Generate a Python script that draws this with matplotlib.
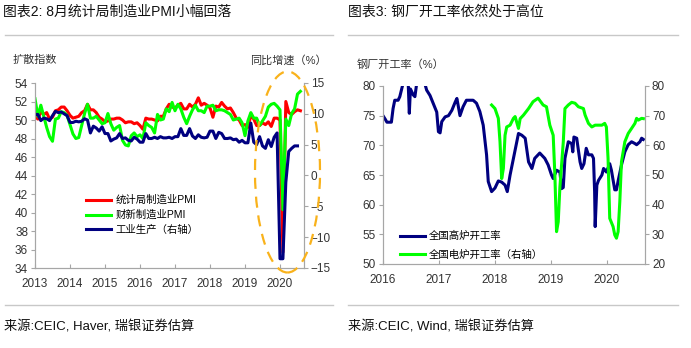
import matplotlib
matplotlib.use('Agg')
import matplotlib.pyplot as plt
import numpy as np
from matplotlib.patches import Ellipse
from matplotlib.lines import Line2D

plt.rcParams['font.family'] = ['Liberation Sans', 'Noto Sans CJK SC', 'DejaVu Sans']

# ---------------- Data: chart 2 (monthly, 2013-01 .. 2020-08) ----------------
years_start = 2013
nbs_pmi = [
    50.4, 50.1, 50.9, 50.6, 50.8, 50.1, 50.3, 51.0, 51.1, 51.4, 51.4, 51.0,
    50.5, 50.2, 50.3, 50.4, 50.8, 51.0, 51.7, 51.1, 51.1, 50.8, 50.3, 50.1,
    49.8, 49.9, 50.1, 50.1, 50.2, 50.2, 50.0, 49.7, 49.8, 49.8, 49.6, 49.7,
    49.4, 49.0, 50.2, 50.1, 50.1, 50.0, 49.9, 50.4, 50.4, 51.2, 51.7, 51.4,
    51.3, 51.6, 51.8, 51.2, 51.2, 51.7, 51.4, 51.7, 52.4, 51.6, 51.8, 51.6,
    51.3, 50.3, 51.5, 51.4, 51.9, 51.5, 51.2, 51.3, 50.8, 50.2, 50.0, 49.4,
    49.5, 49.2, 50.5, 50.1, 49.4, 49.4, 49.7, 49.5, 49.8, 49.3, 50.2, 50.2,
    50.0, 35.7, 52.0, 50.8, 50.6, 50.9, 51.1, 51.0,
]
caixin_pmi = [
    52.3, 50.4, 51.6, 50.4, 49.2, 48.2, 47.7, 50.1, 50.2, 50.9, 50.8, 50.5,
    49.5, 48.5, 48.0, 48.1, 49.4, 50.7, 51.7, 50.2, 50.2, 50.4, 50.0, 49.6,
    49.7, 50.7, 49.6, 48.9, 49.2, 49.4, 47.8, 47.3, 47.2, 48.3, 48.6, 48.2,
    48.4, 48.0, 49.7, 49.4, 49.2, 48.6, 50.6, 50.0, 50.1, 51.2, 50.9, 51.9,
    51.0, 51.7, 51.2, 50.3, 49.6, 50.4, 51.1, 51.6, 51.0, 51.0, 50.8, 51.5,
    51.5, 51.6, 51.0, 51.1, 51.1, 51.0, 50.8, 50.6, 50.0, 50.1, 50.2, 49.7,
    48.3, 49.9, 50.8, 50.2, 50.2, 49.4, 49.9, 50.4, 51.4, 51.7, 51.8, 51.5,
    51.1, 40.3, 50.1, 49.4, 50.7, 51.2, 52.8, 53.1,
]
ip_yoy = [
    9.9, 9.9, 8.9, 9.3, 9.2, 8.9, 9.7, 10.4, 10.2, 10.3, 10.0, 9.7,
    8.6, 8.6, 8.8, 8.7, 8.8, 9.2, 9.0, 6.9, 8.0, 7.7, 7.2, 7.9,
    6.8, 6.8, 5.6, 5.9, 6.1, 6.8, 6.0, 6.1, 5.7, 5.6, 6.2, 5.9,
    5.4, 5.4, 6.8, 6.0, 6.0, 6.2, 6.0, 6.3, 6.1, 6.1, 6.2, 6.0,
    6.3, 6.3, 7.6, 6.5, 6.5, 7.6, 6.4, 6.0, 6.6, 6.2, 6.1, 6.2,
    7.2, 7.2, 6.0, 7.0, 6.8, 6.0, 6.0, 6.1, 5.8, 5.9, 5.4, 5.7,
    5.3, 5.3, 8.5, 5.4, 5.0, 6.3, 4.8, 4.4, 5.8, 4.7, 6.2, 6.9,
    -13.5, -13.5, -1.1, 3.9, 4.4, 4.8, 4.8,
]
left_years = list(range(2013, 2021))

# ---------------- Data: chart 3 (weekly, decimal years) ----------------
bf_t = [2016.00, 2016.04, 2016.07, 2016.15, 2016.18, 2016.21, 2016.27, 2016.30, 2016.36,
        2016.42, 2016.45, 2016.47, 2016.49, 2016.54, 2016.57, 2016.60, 2016.69, 2016.75,
        2016.78, 2016.84, 2016.90, 2016.96, 2016.99, 2017.02, 2017.05, 2017.11, 2017.17,
        2017.23, 2017.29, 2017.32, 2017.375, 2017.43, 2017.49, 2017.55, 2017.61, 2017.67,
        2017.73, 2017.79, 2017.85, 2017.88, 2017.94, 2018.00, 2018.06, 2018.12, 2018.18,
        2018.22, 2018.27, 2018.33, 2018.39, 2018.42, 2018.48, 2018.54, 2018.60, 2018.66,
        2018.71, 2018.80, 2018.89, 2018.95, 2019.01, 2019.04, 2019.10, 2019.16, 2019.19,
        2019.22, 2019.25, 2019.31, 2019.37, 2019.39, 2019.41, 2019.46, 2019.52, 2019.55,
        2019.59, 2019.63, 2019.67, 2019.73, 2019.76, 2019.78, 2019.79, 2019.82, 2019.85,
        2019.91, 2019.94, 2019.97, 2019.99, 2020.05, 2020.08, 2020.14, 2020.17, 2020.20,
        2020.26, 2020.32, 2020.38, 2020.44, 2020.50, 2020.53, 2020.59, 2020.62, 2020.65]
bf_v = [75.0, 74.4, 73.9, 73.9, 76.2, 77.6, 77.6, 78.2, 80.5,
        81.0, 80.5, 75.4, 79.5, 78.5, 78.2, 80.3, 80.5, 80.3,
        79.3, 78.4, 77.0, 75.6, 72.3, 72.1, 74.0, 74.8, 75.0,
        75.9, 77.3, 77.9, 75.0, 76.5, 77.6, 77.6, 77.6, 77.1,
        75.7, 73.4, 68.4, 63.9, 62.2, 62.8, 64.0, 63.8, 63.3,
        62.2, 65.0, 67.8, 70.6, 72.0, 71.7, 71.2, 67.2, 66.1,
        67.8, 68.7, 67.8, 66.7, 65.0, 64.4, 65.8, 65.5, 62.7,
        62.9, 67.8, 70.6, 70.3, 68.9, 71.4, 71.2, 67.2, 66.1,
        66.9, 69.5, 68.4, 68.4, 67.8, 62.2, 56.3, 63.3, 64.1,
        65.0, 66.1, 65.8, 65.5, 66.9, 65.8, 62.5, 62.5, 64.0,
        66.7, 68.9, 70.1, 70.6, 70.3, 70.1, 70.6, 71.2, 71.0]
eaf_t = [2017.94, 2018.00, 2018.06, 2018.09, 2018.12, 2018.15, 2018.18, 2018.21, 2018.27,
         2018.33, 2018.36, 2018.42, 2018.45, 2018.51, 2018.60, 2018.68, 2018.77, 2018.86,
         2018.92, 2018.98, 2019.04, 2019.07, 2019.10, 2019.13, 2019.16, 2019.22, 2019.25,
         2019.31, 2019.37, 2019.43, 2019.49, 2019.58, 2019.61, 2019.67, 2019.73, 2019.79,
         2019.85, 2019.91, 2019.96, 2019.99, 2020.02, 2020.05, 2020.11, 2020.14, 2020.17,
         2020.20, 2020.23, 2020.26, 2020.32, 2020.38, 2020.44, 2020.50, 2020.53, 2020.56,
         2020.62, 2020.65]
eaf_v = [73.6, 72.4, 69.1, 61.2, 48.8, 52.2, 63.4, 66.2, 66.8,
         69.1, 69.7, 65.7, 69.0, 70.2, 72.4, 74.7, 75.9, 73.6,
         73.0, 66.8, 63.4, 50.0, 30.9, 34.2, 46.0, 61.0, 72.4,
         73.6, 74.5, 74.2, 73.0, 72.4, 70.2, 67.4, 66.2, 66.8,
         66.8, 66.8, 67.4, 66.2, 55.6, 35.4, 32.6, 29.8, 28.7,
         30.9, 41.0, 54.5, 61.2, 64.0, 65.7, 67.4, 69.1, 68.5,
         69.1, 69.0]
right_years = list(range(2016, 2021))

# ---------------- Figure ----------------
W, H = 691, 348
fig = plt.figure(figsize=(W / 100, H / 100), dpi=100)

def fx(px):
    return px / W

def fy(py):
    return 1 - py / H

RED = '#FF0000'
GREEN = '#00FF00'
NAVY = '#000080'
SPINE = '#A6A6A6'
TXT = '#333333'
LW = 2.2

def style_axes(ax, ax2):
    for a in (ax, ax2):
        a.spines['top'].set_visible(False)
        for s in ('left', 'right', 'bottom'):
            a.spines[s].set_color(SPINE)
            a.spines[s].set_linewidth(0.8)
    ax.tick_params(axis='y', direction='out', length=3, color=SPINE, labelsize=8.5,
                   labelcolor=TXT, pad=2)
    ax2.tick_params(axis='y', direction='out', length=3, color=SPINE, labelsize=8.5,
                    labelcolor=TXT, pad=2)
    ax.tick_params(axis='x', direction='in', length=3, color=SPINE, labelsize=8.5,
                   labelcolor=TXT, pad=7)

# ---- Chart 2 ----
ax1 = fig.add_axes([fx(35), fy(268), fx(304) - fx(35), fy(83) - fy(268)])
ax1b = ax1.twinx()
t_pmi = np.array([years_start + i / 12 for i in range(len(nbs_pmi))])
t_ip = np.array([years_start + i / 12 for i in range(len(ip_yoy))])
l1, = ax1.plot(t_pmi, nbs_pmi, color=RED, lw=LW, label='统计局制造业PMI')
l2, = ax1.plot(t_pmi, caixin_pmi, color=GREEN, lw=LW, label='财新制造业PMI')
l3, = ax1b.plot(t_ip, ip_yoy, color=NAVY, lw=LW, label='工业生产（右轴）')
ax1.set_xlim(2013.0, 2020.686)
ax1.set_ylim(34, 54)
ax1b.set_ylim(-15, 15)
ax1.set_yticks(np.arange(34, 55, 2))
ax1b.set_yticks(np.arange(-15, 16, 5))
ax1.set_xticks(left_years)
ax1.set_xticklabels([str(y) for y in left_years])
style_axes(ax1, ax1b)
ax1.legend(handles=[l1, l2, l3], loc='upper left', frameon=False,
           bbox_to_anchor=(fx(86), fy(195)), bbox_transform=fig.transFigure,
           fontsize=7.5, handlelength=2.4, handletextpad=0.4, labelspacing=0.45,
           borderpad=0, borderaxespad=0)

ell = Ellipse((fx(287.5), fy(172)), fx(65), 201 / H, transform=fig.transFigure,
              fill=False, edgecolor='#F9B21B', lw=1.6, linestyle=(0, (5, 3.5)),
              clip_on=False)
fig.patches.append(ell)

# ---- Chart 3 ----
ax2 = fig.add_axes([fx(383), fy(264), fx(645) - fx(383), fy(86) - fy(264)])
ax2b = ax2.twinx()
m1, = ax2.plot(bf_t, bf_v, color=NAVY, lw=LW, label='全国高炉开工率')
m2, = ax2b.plot(eaf_t, eaf_v, color=GREEN, lw=LW, label='全国电炉开工率（右轴）')
ax2.set_xlim(2016.0, 2020.68)
ax2.set_ylim(50, 80)
ax2b.set_ylim(20, 80)
ax2.set_yticks(np.arange(50, 81, 5))
ax2b.set_yticks(np.arange(20, 81, 10))
ax2.set_xticks(right_years)
ax2.set_xticklabels([str(y) for y in right_years])
style_axes(ax2, ax2b)
ax2.legend(handles=[m1, m2], loc='upper left', frameon=False,
           bbox_to_anchor=(fx(400), fy(231)), bbox_transform=fig.transFigure,
           fontsize=7.5, handlelength=2.4, handletextpad=0.4, labelspacing=0.8,
           borderpad=0, borderaxespad=0)

# ---- Texts ----
fig.text(fx(3), fy(12), '图表2: 8月统计局制造业PMI小幅回落', fontsize=10, va='center', ha='left', color='#111111')
fig.text(fx(348), fy(12), '图表3: 钢厂开工率依然处于高位', fontsize=10, va='center', ha='left', color='#111111')
fig.text(fx(13), fy(60), '扩散指数', fontsize=8, va='center', ha='left', color=TXT)
fig.text(fx(327), fy(60), '同比增速（%）', fontsize=8, va='center', ha='right', color=TXT)
fig.text(fx(357), fy(65), '钢厂开工率（%）', fontsize=8, va='center', ha='left', color=TXT)
fig.text(fx(4), fy(327), '来源:CEIC, Haver, 瑞银证券估算', fontsize=9.5, va='center', ha='left', color='#111111')
fig.text(fx(348), fy(327), '来源:CEIC, Wind, 瑞银证券估算', fontsize=9.5, va='center', ha='left', color='#111111')

# separator lines
for (x0, x1) in ((5, 333), (348, 678)):
    for yy in (35, 305):
        fig.add_artist(Line2D([fx(x0), fx(x1)], [fy(yy), fy(yy)], transform=fig.transFigure,
                              color='#C8C8C8', lw=1.0))

fig.savefig('out.png', dpi=100)
